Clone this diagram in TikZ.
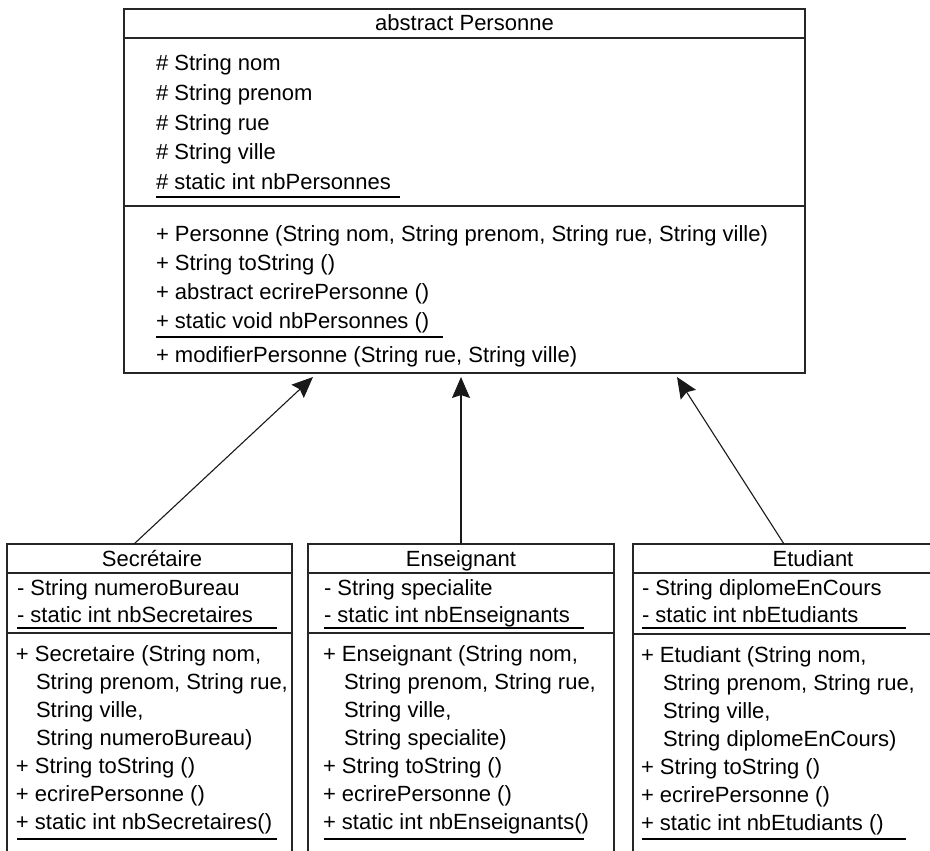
\documentclass[tikz,border=0pt]{standalone}
\usepackage{fontspec}
\setmainfont{Liberation Sans}
\usetikzlibrary{arrows.meta,positioning}

\begin{document}
\begin{tikzpicture}[x=1pt,y=-1pt,every node/.style={font=\fontsize{22}{26}\selectfont, inner sep=0pt, outer sep=0pt},
classbox/.style={draw=black!85, line width=1.1pt, anchor=north west},
ligne/.style={anchor=base west},
titre/.style={anchor=base},
separe/.style={draw=black!85, line width=1.1pt},
souligne/.style={line width=2.2pt},
herite/.style={draw=black!90, line width=1.1pt, -{Stealth[length=21pt,width=18pt,inset=3pt]}}]
\useasboundingbox (0,0) rectangle (930,851);
\fill[white] (0,0) rectangle (930,851);
\clip (0,0) rectangle (930,851);
% classe mere
\node[classbox, minimum width=681pt, minimum height=364pt] (personne) at (124,9) {};
\draw[separe] (124,38) -- (805,38);
\draw[separe] (124,206) -- (805,206);
\node[titre] (ptitre) at (464.5,31) {abstract Personne\strut};
\node[ligne] (pa1) at (156,71) {\# String nom};
\node[ligne] (pa2) at (156,101) {\# String prenom};
\node[ligne] (pa3) at (156,130) {\# String rue};
\node[ligne] (pa4) at (156,160) {\# String ville};
\node[ligne] (pa5) at (156,189) {\# static int nbPersonnes};
\draw[souligne] (156,197) -- (400,197);
\node[ligne] (pm1) at (156,241) {+ Personne (String nom, String prenom, String rue, String ville)};
\node[ligne] (pm2) at (156,270) {+ String toString ()};
\node[ligne] (pm3) at (156,299) {+ abstract ecrirePersonne ()};
\node[ligne] (pm4) at (156,328) {+ static void nbPersonnes ()};
\draw[souligne] (156,337) -- (443,337);
\node[ligne] (pm5) at (156,362) {+ modifierPersonne (String rue, String ville)};
% Secretaire
\node[classbox, minimum width=285pt, minimum height=330pt] (sec) at (7,544) {};
\draw[separe] (7,573) -- (292,573);
\draw[separe] (7,633) -- (292,633);
\node[titre] (stitre) at (152,566) {Secrétaire};
\node[ligne] (sa1) at (17,595) {- String numeroBureau};
\node[ligne] (sa2) at (17,622) {- static int nbSecretaires};
\draw[souligne] (17,628) -- (277,628);
\node[ligne] (sm1) at (16,661) {+ Secretaire (String nom,};
\node[ligne] (sm2) at (36,689) {String prenom, String rue,};
\node[ligne] (sm3) at (36,717) {String ville,};
\node[ligne] (sm4) at (36,745) {String numeroBureau)};
\node[ligne] (sm5) at (16,773) {+ String toString ()};
\node[ligne] (sm6) at (16,801) {+ ecrirePersonne ()};
\node[ligne] (sm7) at (16,829) {+ static int nbSecretaires()};
\draw[souligne] (17,839) -- (277,839);
% Enseignant
\node[classbox, minimum width=306pt, minimum height=330pt] (ens) at (308,544) {};
\draw[separe] (308,573) -- (614,573);
\draw[separe] (308,633) -- (614,633);
\node[titre] (etitre) at (461,566) {Enseignant};
\node[ligne] (ea1) at (324,595) {- String specialite};
\node[ligne] (ea2) at (324,622) {- static int nbEnseignants};
\draw[souligne] (324,628) -- (584,628);
\node[ligne] (em1) at (323,661) {+ Enseignant (String nom,};
\node[ligne] (em2) at (344,689) {String prenom, String rue,};
\node[ligne] (em3) at (344,717) {String ville,};
\node[ligne] (em4) at (344,745) {String specialite)};
\node[ligne] (em5) at (323,773) {+ String toString ()};
\node[ligne] (em6) at (323,801) {+ ecrirePersonne ()};
\node[ligne] (em7) at (323,829) {+ static int nbEnseignants()};
\draw[souligne] (324,839) -- (584,839);
% Etudiant
\node[classbox, minimum width=362pt, minimum height=330pt] (etu) at (633,544) {};
\draw[separe] (633,573) -- (995,573);
\draw[separe] (633,634) -- (995,634);
\node[titre] (ututitre) at (813,566) {Etudiant};
\node[ligne] (ua1) at (642,595) {- String diplomeEnCours};
\node[ligne] (ua2) at (642,622) {- static int nbEtudiants};
\draw[souligne] (642,628) -- (906,628);
\node[ligne] (um1) at (641,662) {+ Etudiant (String nom,};
\node[ligne] (um2) at (663,690) {String prenom, String rue,};
\node[ligne] (um3) at (663,718) {String ville,};
\node[ligne] (um4) at (663,746) {String diplomeEnCours)};
\node[ligne] (um5) at (641,774) {+ String toString ()};
\node[ligne] (um6) at (641,802) {+ ecrirePersonne ()};
\node[ligne] (um7) at (641,830) {+ static int nbEtudiants ()};
\draw[souligne] (642,839) -- (906,839);
% heritage
\draw[herite] ([xshift=-15.5pt]sec.north) -- ([xshift=-151.5pt,yshift=-4pt]personne.south);
\draw[herite] (ens.north) -- ([xshift=-3.5pt,yshift=-4pt]personne.south);
\draw[herite] ([xshift=-30pt]etu.north) -- ([xshift=212.5pt,yshift=-4pt]personne.south);
\end{tikzpicture}
\end{document}
